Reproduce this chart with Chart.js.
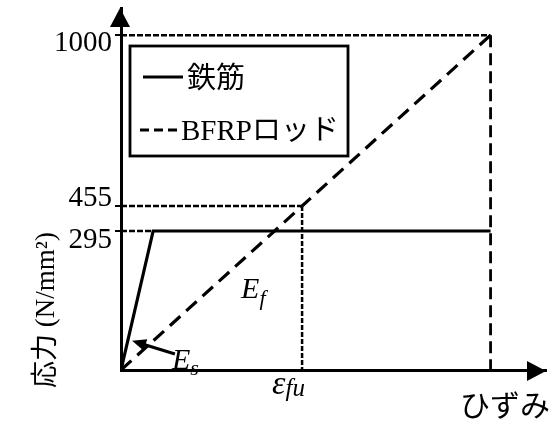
<!DOCTYPE html>
<html>
<head>
<meta charset="utf-8">
<script src="https://cdn.jsdelivr.net/npm/chart.js@4/dist/chart.umd.min.js"></script>
<style>
  html, body { margin: 0; padding: 0; background: #fff; }
  #wrap { width: 556px; height: 424px; }
</style>
</head>
<body>
<div id="wrap"><canvas id="c" width="556" height="424"></canvas></div>
<script>
// ---- data -------------------------------------------------------------
// strain is in relative units (no numeric ticks are shown on the strain axis)
const seriesLabels = ['鉄筋', 'BFRPロッド'];
const steelStrain = [0, 0.087, 1.0];
const steelStress = [0, 295, 295];
const bfrpStrain = [0, 0.49, 1.0];
const bfrpStress = [0, 455, 1000];
const stressTicks = [295, 455, 1000];
const strainMarks = { epsFu: 0.49, end: 1.0, yieldSteel: 0.087 };

// ---- schematic stress axis: piecewise-linear spacing between key stresses
const stressKnots = [0, 295, 455, 1000, 1080];
const stressKnotFrac = [0, 0.384, 0.453, 0.925, 1];
const tickLabelNudge = { 295: 9, 455: -8, 1000: 8 };

function toFrac(v) {
  for (let i = 1; i < stressKnots.length; i++) {
    if (v <= stressKnots[i] || i === stressKnots.length - 1) {
      const a = stressKnots[i - 1], b = stressKnots[i];
      const fa = stressKnotFrac[i - 1], fb = stressKnotFrac[i];
      return fa + (v - a) / (b - a) * (fb - fa);
    }
  }
  return 0;
}
function fromFrac(f) {
  for (let i = 1; i < stressKnotFrac.length; i++) {
    if (f <= stressKnotFrac[i] || i === stressKnotFrac.length - 1) {
      const a = stressKnotFrac[i - 1], b = stressKnotFrac[i];
      const va = stressKnots[i - 1], vb = stressKnots[i];
      return va + (f - a) / (b - a) * (vb - va);
    }
  }
  return 0;
}

class PiecewiseScale extends Chart.LinearScale {
  getPixelForValue(value) {
    return this.getPixelForDecimal(toFrac(value));
  }
  getValueForPixel(pixel) {
    return fromFrac(this.getDecimalForPixel(pixel));
  }
  _computeLabelItems(chartArea) {
    const items = super._computeLabelItems(chartArea);
    try {
      items.forEach((item, i) => {
        const t = this.ticks[i];
        const off = t ? tickLabelNudge[t.value] : 0;
        if (off && item.options && item.options.translation) {
          item.options.translation[1] += off;
        }
      });
    } catch (e) {}
    return items;
  }
}
PiecewiseScale.id = 'piecewise';
PiecewiseScale.defaults = Chart.LinearScale.defaults;
Chart.register(PiecewiseScale);

const serif = '"Liberation Serif", "Noto Sans CJK JP", serif';
const cjk = '"Noto Sans CJK JP", "Liberation Serif", sans-serif';

function pts(xs, ys) { return xs.map((x, i) => ({ x: x, y: ys[i] })); }

const guide = (data, dash, width) => ({
  label: '', data: data, borderColor: '#000', borderWidth: width || 2.5,
  borderDash: dash, pointRadius: 0, fill: false, tension: 0
});

const datasets = [
  {
    label: seriesLabels[0], data: pts(steelStrain, steelStress),
    borderColor: '#000', borderWidth: 3.2, pointRadius: 0, fill: false, tension: 0
  },
  {
    label: seriesLabels[1], data: pts(bfrpStrain, bfrpStress),
    borderColor: '#000', borderWidth: 3.2, borderDash: [14, 8], pointRadius: 0, fill: false, tension: 0
  },
  guide([{ x: 0, y: bfrpStress[2] }, { x: strainMarks.end, y: bfrpStress[2] }], [6, 2]),
  guide([{ x: 0, y: bfrpStress[1] }, { x: strainMarks.epsFu, y: bfrpStress[1] }], [6, 2]),
  guide([{ x: 0, y: steelStress[1] }, { x: strainMarks.yieldSteel, y: steelStress[1] }], [6, 2]),
  guide([{ x: strainMarks.epsFu, y: bfrpStress[1] }, { x: strainMarks.epsFu, y: 0 }], [5, 2]),
  guide([{ x: strainMarks.end, y: bfrpStress[2] }, { x: strainMarks.end, y: 0 }], [12, 6], 2.8)
];

// arrows at the axis ends, legend box, annotations and axis captions
const decor = {
  id: 'decor',
  afterDraw(chart) {
    const { ctx, chartArea: ca, scales: { x, y } } = chart;
    ctx.save();
    ctx.fillStyle = '#000';
    ctx.strokeStyle = '#000';

    // axis arrowheads
    ctx.beginPath();
    ctx.moveTo(ca.left - 1, ca.top);
    ctx.lineTo(ca.left - 11, ca.top + 19);
    ctx.lineTo(ca.left + 9, ca.top + 19);
    ctx.closePath();
    ctx.fill();
    ctx.beginPath();
    ctx.moveTo(ca.right, ca.bottom + 1);
    ctx.lineTo(ca.right - 19, ca.bottom - 9);
    ctx.lineTo(ca.right - 19, ca.bottom + 11);
    ctx.closePath();
    ctx.fill();

    // legend
    const bx = ca.left + 9, by = ca.top + 38, bw = 218, bh = 110;
    ctx.fillStyle = '#fff';
    ctx.fillRect(bx, by, bw, bh);
    ctx.fillStyle = '#000';
    ctx.lineWidth = 2.8;
    ctx.setLineDash([]);
    ctx.strokeRect(bx, by, bw, bh);
    const ds = chart.data.datasets;
    ctx.lineWidth = ds[0].borderWidth;
    ctx.beginPath();
    ctx.moveTo(bx + 13, by + 31);
    ctx.lineTo(bx + 53, by + 31);
    ctx.stroke();
    ctx.lineWidth = ds[1].borderWidth;
    ctx.setLineDash([9, 5]);
    ctx.beginPath();
    ctx.moveTo(bx + 10, by + 84);
    ctx.lineTo(bx + 52, by + 84);
    ctx.stroke();
    ctx.setLineDash([]);
    ctx.textBaseline = 'middle';
    ctx.textAlign = 'left';
    ctx.font = '29px ' + serif;
    ctx.fillText(ds[0].label, bx + 57, by + 34);
    ctx.fillText(ds[1].label, bx + 51, by + 86);

    // E_s with arrow pointing at the steel line
    const tip = { x: x.getPixelForValue(0.03), y: y.getPixelForValue(62) };
    const tail = { x: x.getPixelForValue(0.146), y: y.getPixelForValue(34) };
    const ang = Math.atan2(tip.y - tail.y, tip.x - tail.x);
    ctx.lineWidth = 3;
    ctx.beginPath();
    ctx.moveTo(tail.x, tail.y);
    ctx.lineTo(tip.x - 10 * Math.cos(ang), tip.y - 10 * Math.sin(ang));
    ctx.stroke();
    ctx.beginPath();
    ctx.moveTo(tip.x, tip.y);
    ctx.lineTo(tip.x - 14 * Math.cos(ang) + 6 * Math.sin(ang), tip.y - 14 * Math.sin(ang) - 6 * Math.cos(ang));
    ctx.lineTo(tip.x - 14 * Math.cos(ang) - 6 * Math.sin(ang), tip.y - 14 * Math.sin(ang) + 6 * Math.cos(ang));
    ctx.closePath();
    ctx.fill();

    ctx.textBaseline = 'alphabetic';
    const subText = (main, sub, px, py, mainSize, subSize, drop) => {
      ctx.font = 'italic ' + mainSize + 'px ' + serif;
      ctx.fillText(main, px, py);
      const w = ctx.measureText(main).width;
      ctx.font = 'italic ' + subSize + 'px ' + serif;
      ctx.fillText(sub, px + w, py + drop);
    };
    subText('E', 's', tail.x - 3, tail.y + 15, 30, 22, 6);

    // E_f beside the BFRP line
    subText('E', 'f', x.getPixelForValue(0.325), y.getPixelForValue(153), 30, 22, 7);

    // ε_fu under the strain axis
    subText('ε', 'fu', x.getPixelForValue(strainMarks.epsFu) - 30, ca.bottom + 24, 34, 25, 2);

    // strain axis caption
    ctx.font = '30px ' + cjk;
    ctx.textAlign = 'right';
    ctx.fillText('ひずみ', ca.right + 4, ca.bottom + 46);

    // stress axis caption
    ctx.save();
    ctx.translate(47, ca.bottom - 60);
    ctx.rotate(-Math.PI / 2);
    ctx.textAlign = 'center';
    ctx.textBaseline = 'middle';
    ctx.font = '27px ' + serif;
    ctx.fillText('応力 (N/mm²)', 0, 0);
    ctx.restore();

    ctx.restore();
  }
};

new Chart(document.getElementById('c'), {
  type: 'line',
  data: { datasets: datasets },
  options: {
    responsive: false,
    animation: false,
    devicePixelRatio: 1,
    layout: { padding: { top: 8, right: 10, left: 0, bottom: 0 } },
    plugins: { legend: { display: false }, tooltip: { enabled: false } },
    elements: { line: { borderCapStyle: 'butt' } },
    scales: {
      x: {
        type: 'linear', min: 0, max: 1.15,
        ticks: { display: false },
        grid: { display: false },
        border: { display: true, color: '#000', width: 3 },
        afterFit(scale) { scale.height = 54; scale.paddingLeft = 0; scale.paddingRight = 0; }
      },
      y: {
        type: 'piecewise', min: 0, max: 1080,
        afterBuildTicks(scale) { scale.ticks = stressTicks.map(v => ({ value: v })); },
        ticks: {
          color: '#000', padding: 3, autoSkip: false,
          font: { family: serif, size: 29 },
          callback: (v) => String(v)
        },
        grid: { display: true, drawOnChartArea: false, drawTicks: true, tickLength: 6, color: '#000', lineWidth: 2 },
        border: { display: true, color: '#000', width: 3 },
        afterFit(scale) { scale.width = 121; scale.paddingTop = 0; scale.paddingBottom = 0; }
      }
    }
  },
  plugins: [decor]
});
</script>
</body>
</html>
